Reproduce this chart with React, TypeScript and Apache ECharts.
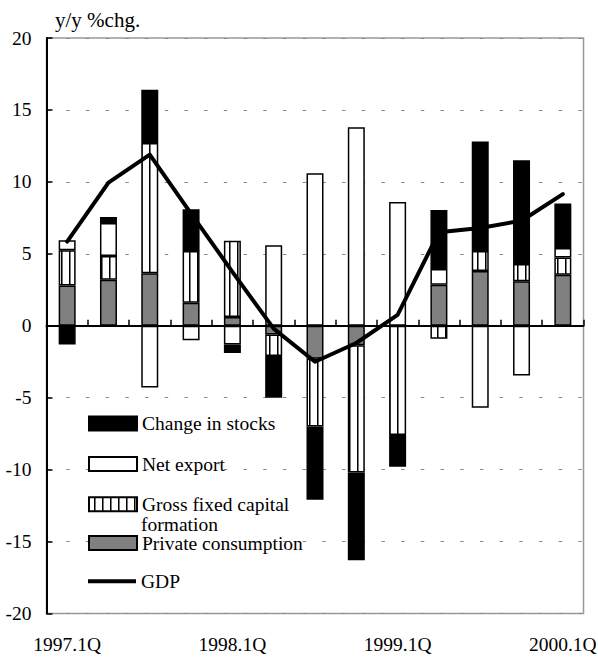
import React, { useEffect, useRef } from 'react';
import * as echarts from 'echarts';

const quarters = ['1997.1Q', '1997.2Q', '1997.3Q', '1997.4Q', '1998.1Q', '1998.2Q', '1998.3Q', '1998.4Q', '1999.1Q', '1999.2Q', '1999.3Q', '1999.4Q', '2000.1Q'];
const privateConsumption = [2.8, 3.2, 3.65, 1.6, 0.6, -0.6, -2.3, -1.35, 0, 2.85, 3.8, 3.1, 3.55];
const grossFixedCapital = [2.45, 1.65, 9.05, 3.6, 5.3, -1.5, -4.7, -8.85, -7.6, -0.9, 1.4, 1.2, 1.2];
const netExport = [0.7, 2.3, -4.3, -1.0, -1.3, 5.6, 10.6, 13.8, 8.6, 1.1, -5.7, -3.45, 0.65];
const changeInStocks = [-1.3, 0.4, 3.7, 2.9, -0.6, -2.9, -5.1, -6.1, -2.2, 4.1, 7.6, 7.2, 3.1];
const gdp = [5.85, 9.95, 11.9, 7.8, 3.75, -0.2, -2.5, -1.2, 0.75, 6.5, 6.8, 7.3, 9.15];

const legendNames = ['Change in stocks', 'Net export', 'Gross fixed capital formation', 'Private consumption', 'GDP'];
const legendLabels = ['Change in stocks', 'Net export', 'Gross fixed capital', 'Private consumption', 'GDP'];
const legendWrap = 'formation';
const yUnit = 'y/y %chg.';

const FONT = '"Liberation Serif", "Times New Roman", serif';
const FS = 19.5;

function makeStripe(): HTMLCanvasElement {
  const c = document.createElement('canvas');
  c.width = 8;
  c.height = 8;
  const ctx = c.getContext('2d')!;
  ctx.fillStyle = '#ffffff';
  ctx.fillRect(0, 0, 8, 8);
  ctx.fillStyle = '#000000';
  ctx.fillRect(5, 0, 1, 8);
  ctx.fillStyle = '#777777';
  ctx.fillRect(6, 0, 1, 8);
  return c;
}

export default function App() {
  const ref = useRef<HTMLDivElement>(null);

  useEffect(() => {
    if (!ref.current) return;
    const chart = echarts.init(ref.current, undefined, { renderer: 'svg' });
    const stripe = makeStripe();
    const border = { borderColor: '#000', borderWidth: 1.5 };
    const barBase = { type: 'bar', stack: 'total', barWidth: 17 };

    const legendTops = [413.5, 454, 494.3, 533, 571.3];
    const legends = legendNames.map((name, i) => {
      const isLine = name === 'GDP';
      const label = legendLabels[i];
      return {
        left: 88,
        top: legendTops[i],
        orient: 'vertical',
        padding: 0,
        itemWidth: 48,
        itemHeight: isLine ? 4 : 14,
        itemGap: 0,
        selectedMode: false,
        icon: 'rect',
        data: [name],
        formatter: () => label,
        textStyle: {
          fontFamily: FONT,
          fontSize: FS,
          color: '#000',
          lineHeight: 14,
        },
      };
    });

    chart.setOption({
      animation: false,
      backgroundColor: '#fff',
      title: {
        text: yUnit,
        left: 55,
        top: 10,
        padding: 0,
        textStyle: { fontFamily: FONT, fontSize: 21, fontWeight: 'normal', color: '#000', lineHeight: 20 },
      },
      graphic: [
        {
          type: 'text',
          left: 141,
          top: 513,
          style: { text: legendWrap, fontFamily: FONT, fontSize: FS, fill: '#000', lineHeight: 22 },
        },
      ],
      grid: {
        left: 46.5,
        right: 14.5,
        top: 38,
        bottom: 43.5,
        show: true,
        borderColor: '#999',
        borderWidth: 1.5,
        backgroundColor: 'transparent',
        outerBoundsMode: 'none',
        containLabel: false,
      },
      legend: legends,
      xAxis: {
        type: 'category',
        data: quarters,
        boundaryGap: true,
        axisLine: { show: true, lineStyle: { color: '#000', width: 2 } },
        axisTick: { show: true, inside: true, length: 6, interval: 0, lineStyle: { color: '#000', width: 1.5 } },
        axisLabel: { interval: 3, margin: 21, fontFamily: FONT, fontSize: FS, color: '#000' },
        splitLine: { show: false },
      },
      yAxis: {
        type: 'value',
        min: -20,
        max: 20,
        interval: 5,
        axisLine: { show: true, lineStyle: { color: '#000', width: 2 } },
        axisTick: { show: true, inside: true, length: 6, lineStyle: { color: '#000', width: 1.5 } },
        axisLabel: { margin: 15, fontFamily: FONT, fontSize: FS, color: '#000' },
        splitLine: { show: true, lineStyle: { color: '#888', width: 1, type: [3.5, 16.2] } },
      },
      series: [
        { ...barBase, name: 'Private consumption', data: privateConsumption, itemStyle: { color: '#808080', ...border } },
        {
          ...barBase,
          name: 'Gross fixed capital formation',
          data: grossFixedCapital,
          itemStyle: { color: { image: stripe, repeat: 'repeat', imageWidth: 8, imageHeight: 8 }, ...border },
        },
        { ...barBase, name: 'Net export', data: netExport, itemStyle: { color: '#fff', ...border } },
        { ...barBase, name: 'Change in stocks', data: changeInStocks, itemStyle: { color: '#000', ...border } },
        {
          name: 'GDP',
          type: 'line',
          data: gdp,
          symbol: 'none',
          showSymbol: false,
          z: 5,
          itemStyle: { color: '#000' },
          lineStyle: { color: '#000', width: 4, cap: 'round', join: 'round' },
        },
      ],
    } as any);

    return () => chart.dispose();
  }, []);

  return <div ref={ref} style={{ position: 'fixed', left: 0, top: 0, width: 598, height: 657 }} />;
}
